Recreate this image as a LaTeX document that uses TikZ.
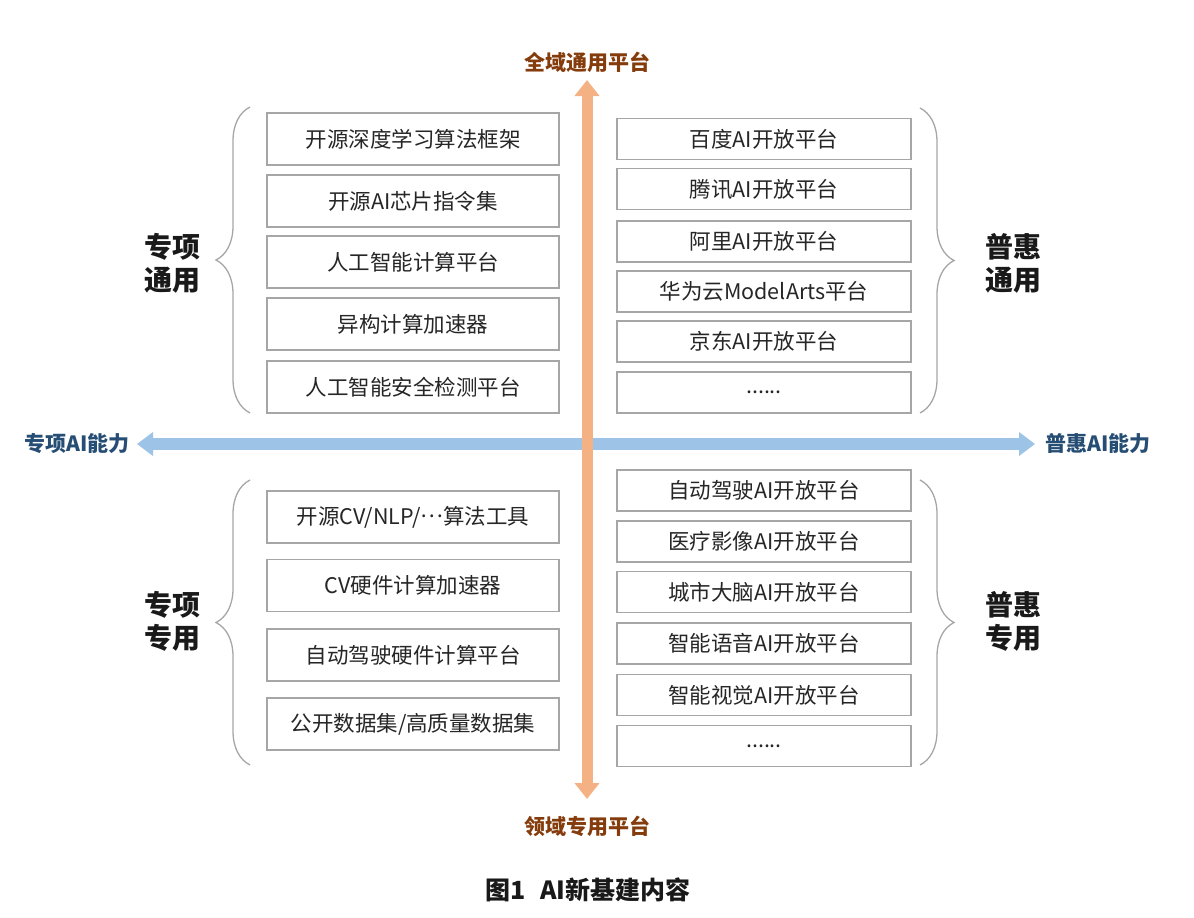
\documentclass[tikz,border=0pt]{standalone}
\usepackage{fontspec}
\setmainfont{Noto Sans CJK SC}
\usetikzlibrary{positioning,arrows.meta,decorations.pathreplacing}
\definecolor{marron}{HTML}{843C0C}
\definecolor{azuloscuro}{HTML}{264D73}
\definecolor{naranja}{HTML}{F4B183}
\definecolor{celeste}{HTML}{9DC3E6}
\definecolor{borde}{HTML}{A6A6A6}
\newcommand{\puntos}{......}
\newcommand{\etc}{\raisebox{0.3em}{…}}
\tikzset{
  caja/.style={draw=borde, line width=1.7pt, fill=white, inner sep=0pt,
               text=black!85, font=\fontsize{21.5}{25}\selectfont},
  cajaizq/.style={caja, minimum width=292pt, minimum height=52pt},
  cajader/.style={caja, minimum width=294pt, minimum height=41pt},
  grupo/.style={font=\fontsize{28}{33}\selectfont\bfseries, align=center, text=black!90},
  eje/.style={font=\fontsize{21}{25}\selectfont\bfseries},
  llave/.style={draw=borde, line width=1.3pt, decorate,
                decoration={brace, amplitude=34pt}}
}

\begin{document}
\begin{tikzpicture}[x=1pt, y=-1pt]
    \useasboundingbox (0,0) rectangle (1194,918);

    % ejes
    \coordinate (izq) at (137,444);
    \coordinate (der) at (1035,444);
    \coordinate (arr) at (587,80);
    \coordinate (aba) at (587,799);
    \draw[celeste, line width=12pt, {Triangle[length=16pt,width=23pt]}-{Triangle[length=16pt,width=23pt]}] (izq) -- (der);
    \draw[naranja, line width=11pt, {Triangle[length=16pt,width=24pt]}-{Triangle[length=16pt,width=24pt]}] (aba) -- (arr);

    \node[eje, text=marron] (global) at (587,62) {全域通用平台};
    \node[eje, text=marron] (dominio) at (587,826) {领域专用平台};
    \node[eje, text=azuloscuro] (especial) at (77,444) {专项AI能力};
    \node[eje, text=azuloscuro] (general) at (1098,444) {普惠AI能力};

    % cajas
    \foreach \i/\y/\t in {1/139/开源深度学习算法框架, 2/201/开源AI芯片指令集,
                          3/262/人工智能计算平台, 4/324/异构计算加速器,
                          5/387/人工智能安全检测平台} {
      \node[cajaizq] (tl\i) at (413,\y) {\t};
    }
    \foreach \i/\y/\t in {1/517/{开源CV/NLP/\etc 算法工具}, 2/585.5/CV硬件计算加速器,
                          3/655/自动驾驶硬件计算平台, 4/724/{公开数据集/高质量数据集}} {
      \node[cajaizq] (bl\i) at (413,\y) {\t};
    }
    \foreach \i/\y/\t in {1/139/百度AI开放平台, 2/189/腾讯AI开放平台,
                          3/241.5/阿里AI开放平台, 4/291.5/华为云ModelArts平台,
                          5/341.5/京东AI开放平台, 6/392.5/\puntos} {
      \node[cajader] (tr\i) at (764,\y) {\t};
    }
    \foreach \i/\y/\t in {1/490.5/自动驾驶AI开放平台, 2/541.5/医疗影像AI开放平台,
                          3/592/城市大脑AI开放平台, 4/643.5/智能语音AI开放平台,
                          5/695/智能视觉AI开放平台, 6/746/\puntos} {
      \node[cajader] (br\i) at (764,\y) {\t};
    }

    % llaves
    \draw[llave] (250,413) -- (250,107);
    \draw[llave] (250,765) -- (250,480);
    \draw[llave] (920,108) -- (920,413);
    \draw[llave] (920,480) -- (920,765);

    \node[grupo] (zxty) at (172,263) {专项\\通用};
    \node[grupo] (phty) at (1013,263) {普惠\\通用};
    \node[grupo] (zxzy) at (172,621) {专项\\专用};
    \node[grupo] (phzy) at (1013,621) {普惠\\专用};

    \node[font=\fontsize{25}{29}\selectfont\bfseries, text=black!90] (titulo) at (588,890) {图1\hspace{0.6em}AI新基建内容};
\end{tikzpicture}
\end{document}
